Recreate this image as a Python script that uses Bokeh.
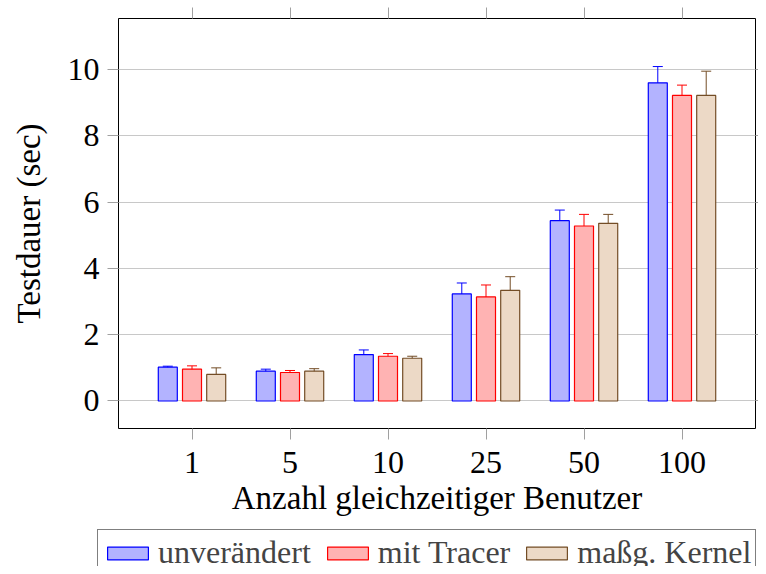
from bokeh.plotting import figure
from bokeh.layouts import column, row
from bokeh.models import (ColumnDataSource, FactorRange, Range1d, Whisker, TeeHead,
                          Legend, LegendItem, LinearAxis, CategoricalAxis, FixedTicker)
from bokeh.transform import dodge
from bokeh.embed import file_html
from bokeh.resources import INLINE

categories = ["1", "5", "10", "25", "50", "100"]
unveraendert = [1.02, 0.90, 1.40, 3.23, 5.44, 9.60]
unveraendert_err = [0.03, 0.06, 0.14, 0.33, 0.32, 0.49]
tracer = [0.96, 0.86, 1.35, 3.14, 5.28, 9.22]
tracer_err = [0.10, 0.06, 0.08, 0.36, 0.35, 0.31]
kernel = [0.80, 0.90, 1.29, 3.34, 5.36, 9.22]
kernel_err = [0.20, 0.075, 0.06, 0.41, 0.27, 0.73]
series_labels = ["unverändert", "mit Tracer", "maßg. Kernel"]
y_ticks = [0, 2, 4, 6, 8, 10]

FONT = "Liberation Serif"
TICK_FS = "32px"
LABEL_FS = "33px"
LEGEND_FS = "32px"

p = figure(width=758, height=528, output_backend="svg", toolbar_location=None,
           x_range=FactorRange(*categories, range_padding=0.5 / 6),
           y_range=Range1d(-0.83, 11.54),
           min_border_left=118, min_border_right=3, min_border_top=18,
           min_border_bottom=100)

p.outline_line_color = "black"
p.outline_line_width = 1
p.xgrid.visible = False
p.ygrid.grid_line_color = "#c8c8c8"
p.ygrid.grid_line_width = 1
p.ygrid.ticker = FixedTicker(ticks=y_ticks)

styles = [
    ("#0000ff", "#b3b3ff"),
    ("#ff0000", "#ffb3b3"),
    ("#734d26", "#ecd9c6"),
]
vals = [unveraendert, tracer, kernel]
errs = [unveraendert_err, tracer_err, kernel_err]
offsets = [-0.247, 0.0, 0.247]

sources = []
for (lc, fc), v, e, off in zip(styles, vals, errs, offsets):
    src = ColumnDataSource(dict(cat=categories, val=v,
                                upper=[a + b for a, b in zip(v, e)],
                                lower=[a - b for a, b in zip(v, e)]))
    sources.append(src)
    p.vbar(x=dodge("cat", off, range=p.x_range), top="val", bottom=0, width=0.194,
           source=src, fill_color=fc, line_color=lc, line_width=1.2)
    w = Whisker(source=src, base=dodge("cat", off, range=p.x_range), upper="upper",
                lower="lower", line_color=lc, line_width=1,
                upper_head=TeeHead(size=10, line_color=lc, line_width=1),
                lower_head=TeeHead(size=10, line_color=lc, line_width=1))
    p.add_layout(w)


def style_axis(ax, labels=True):
    ax.axis_line_color = None
    ax.major_tick_line_color = "#a0a0a0"
    ax.major_tick_out = 11
    ax.major_tick_in = 0
    ax.minor_tick_line_color = None
    ax.major_label_text_font = FONT
    if labels:
        ax.major_label_text_font_size = TICK_FS
        ax.major_label_text_color = "black"
    else:
        ax.major_label_text_font_size = "0px"
        ax.major_label_text_color = None
        ax.major_label_standoff = 0
    ax.axis_label_text_font = FONT
    ax.axis_label_text_font_size = LABEL_FS
    ax.axis_label_text_font_style = "normal"
    ax.axis_label_text_color = "black"


p.xaxis.axis_label = "Anzahl gleichzeitiger Benutzer"
p.yaxis.axis_label = "Testdauer (sec)"
p.yaxis.ticker = FixedTicker(ticks=y_ticks)
style_axis(p.xaxis[0])
style_axis(p.yaxis[0])
p.xaxis.major_label_standoff = 12
p.yaxis.major_label_standoff = 8
p.xaxis.axis_label_standoff = 4
p.yaxis.axis_label_standoff = 18

top_ax = CategoricalAxis()
style_axis(top_ax, labels=False)
p.add_layout(top_ax, "above")
right_ax = LinearAxis(ticker=FixedTicker(ticks=y_ticks))
style_axis(right_ax, labels=False)
right_ax.major_tick_out = 3
p.add_layout(right_ax, "right")

# legend strip below the chart (its own bars sit outside its visible range)
lp = figure(width=758, height=38, output_backend="svg", toolbar_location=None,
            x_range=FactorRange(*categories), y_range=Range1d(100, 101),
            x_axis_location=None, y_axis_location=None, min_border=0)
lp.outline_line_color = None
lp.xgrid.visible = False
lp.ygrid.visible = False
items = []
for (lc, fc), src, lab in zip(styles, sources, series_labels):
    r = lp.vbar(x="cat", top="val", bottom=0, width=0.194, source=src,
                fill_color=fc, line_color=lc, line_width=1.2)
    items.append(LegendItem(label=lab, renderers=[r]))

legend = Legend(items=items, orientation="horizontal", location=(97, -10),
                label_text_font=FONT, label_text_font_size=LEGEND_FS,
                glyph_width=51, glyph_height=16, label_standoff=5, spacing=11,
                padding=4, margin=0, border_line_color="black", border_line_width=1,
                background_fill_color="white", background_fill_alpha=1)
lp.add_layout(legend, "center")

layout = column(p, row(lp), spacing=0)
open("out.html", "w").write(file_html(layout, INLINE))
